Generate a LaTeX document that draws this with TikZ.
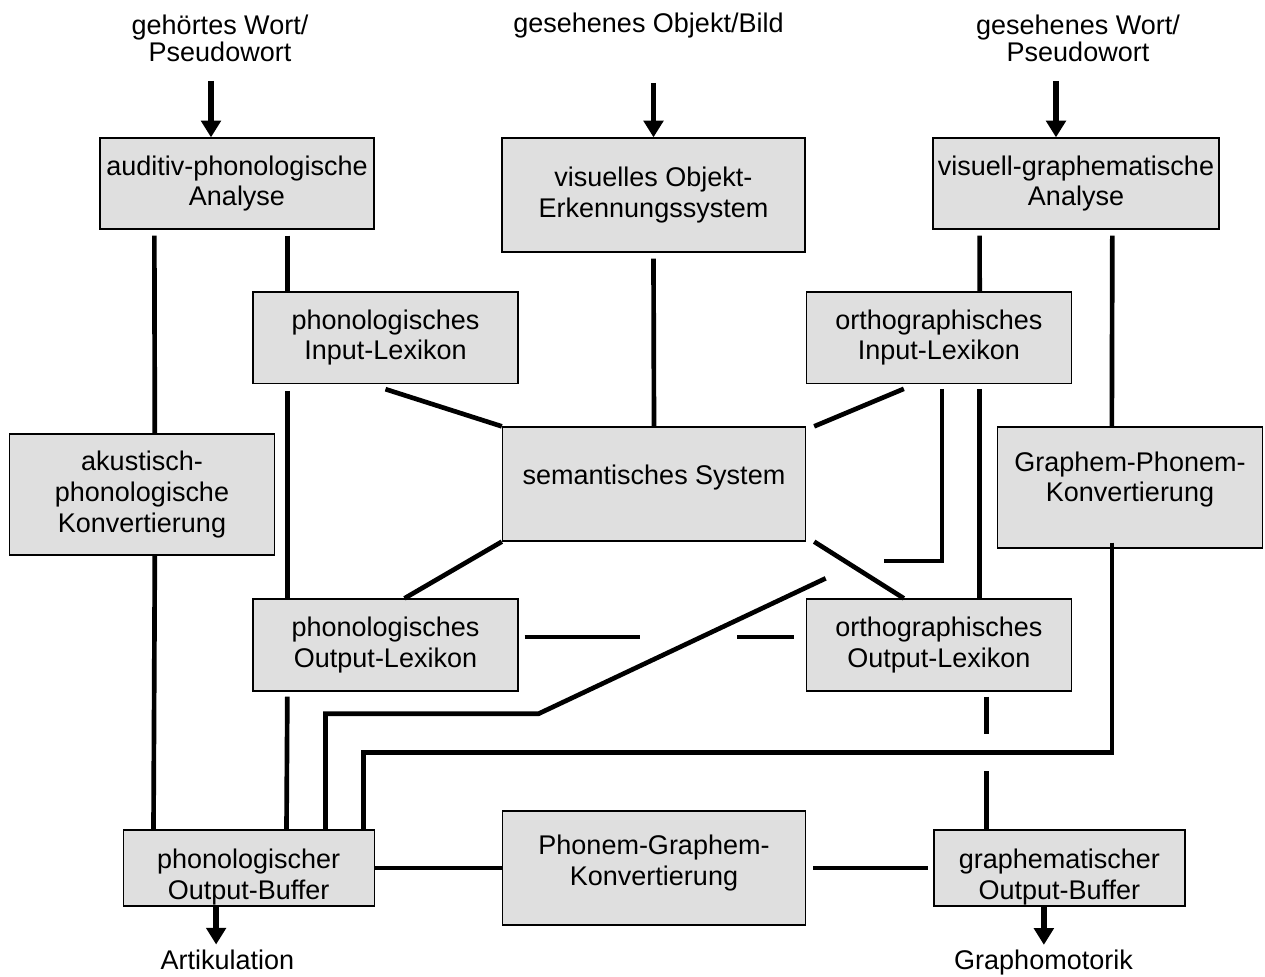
\documentclass[tikz,border=0pt]{standalone}
\usepackage{fontspec}
\setmainfont{Liberation Sans}
\usepackage{xcolor}
\definecolor{boxgray}{RGB}{223, 223, 223}
\usepackage{tikz}
\usetikzlibrary{arrows.meta, positioning}

\begin{document}
\begin{tikzpicture}[
    x=0.75pt, y=-0.75pt,
    every node/.style={align=center, inner sep=0pt},
    box/.style={rectangle, draw, line width=1pt, fill=boxgray, font=\fontsize{20.25}{23}\selectfont},
    analysis/.style={box, minimum width=205.5pt, minimum height=68.25pt},
    central/.style={box, minimum width=227.25pt, minimum height=85.5pt},
    lexicon/.style={box, minimum width=198.75pt, minimum height=68.5pt},
    conversion/.style={box, minimum width=198.75pt, minimum height=90.75pt},
    buffer/.style={box, minimum width=188.25pt, minimum height=57pt},
    io/.style={font=\fontsize{20.25}{20.25}\selectfont},
    link/.style={line width=3.5pt},
    feed/.style={-{Triangle[length=12.5pt, width=14.5pt]}, line width=4pt}
]
\useasboundingbox (0,0) rectangle (1265,976);

% Nodes
\node[io] (hear) at (220,38.5) {gehörtes Wort/\\Pseudowort};
\node[io] (obj) at (648.5,26) {gesehenes Objekt/Bild};
\node[io] (read) at (1078,38.5) {gesehenes Wort/\\Pseudowort};

\node[analysis] (aud) at (237,183.5) {auditiv-phonologische\\Analyse};
\node[central] (vis) at (653.5,195) {visuelles Objekt-\\Erkennungssystem};
\node[analysis, minimum width=214.5pt] (vgraph) at (1076,183.5) {visuell-graphematische\\Analyse};

\node[lexicon] (phonin) at (385.5,337.5) {phonologisches\\Input-Lexikon};
\node[lexicon, right=215.25pt of phonin] (orthin) {orthographisches\\Input-Lexikon};

\node[conversion] (akust) at (142,494.5) {akustisch-\\phonologische\\Konvertierung};
\node[central, text depth=13.3pt] (sem) at (654,484) {semantisches System};
\node[conversion] (gpk) at (1130,487.5) {Graphem-Phonem-\\Konvertierung\rule[-16.3pt]{0pt}{0pt}};

\node[lexicon, minimum height=69pt] (phonout) at (385.5,645) {phonologisches\\Output-Lexikon};
\node[lexicon, minimum height=69pt, right=215.25pt of phonout] (orthout) {orthographisches\\Output-Lexikon};

\node[central] (pgk) at (654,868) {Phonem-Graphem-\\Konvertierung\rule[-11.8pt]{0pt}{0pt}};
\node[buffer, left=95.25pt of pgk] (pbuf) {\rule{0pt}{28pt}phonologischer\\Output-Buffer};
\node[buffer, right=95.25pt of pgk] (gbuf) {\rule{0pt}{28pt}graphematischer\\Output-Buffer};

\node[io] (artik) at (227.5,960) {Artikulation};
\node[io] (motor) at (1043.5,963) {Graphomotorik};

% Connections
\draw[feed, shorten <=14pt] ([xshift=-6.75pt]hear.south) -- ([xshift=-6.75pt]hear.south |- aud.north);
\draw[feed, shorten <=33pt] (obj.south -| vis.north) -- (vis.north);
\draw[feed, shorten <=14pt] ([xshift=-16.5pt]read.south) -- ([xshift=-16.5pt]read.south |- vgraph.north);

\draw[link] ([shift={(55,6)}]aud.south west) -- ([shift={(146,0)}]akust.north west);
\draw[link] ([shift={(146,0)}]akust.south west) -- ([shift={(31,0)}]pbuf.north west);
\draw[link] ([shift={(188,6)}]aud.south west) -- ([shift={(35,0)}]phonin.north west);
\draw[link] ([shift={(35,7)}]phonin.south west) -- ([shift={(35,0)}]phonout.north west);
\draw[link] ([shift={(35,5)}]phonout.south west) -- ([shift={(164,0)}]pbuf.north west);

\draw[link] ([yshift=-4.5pt]vis.south) -- (sem.north);
\draw[link] ([yshift=-4pt]phonin.south) -- (sem.north west);
\draw[link] ([shift={(-35,5)}]orthin.south) -- ([xshift=6pt]sem.north east);
\draw[link] (sem.south west) -- ([xshift=14.25pt]phonout.north);
\draw[link] ([xshift=6pt]sem.south east) -- ([xshift=-26.25pt]orthout.north);

\draw[link] ([shift={(47.3,6)}]vgraph.south west) -- ([shift={(174,0)}]orthin.north west);
\draw[link] ([shift={(180,6)}]vgraph.south west) -- ([shift={(115,0)}]gpk.north west);
\draw[link] ([shift={(174,5)}]orthin.south west) -- ([shift={(174,0)}]orthout.north west);
\draw[link] ([shift={(181,5)}]orthout.south west) -- ++(0,37);
\draw[link] ([shift={(53,-58)}]gbuf.north west) -- ([shift={(53,0)}]gbuf.north west);

\draw[link] ([shift={(115,-6)}]gpk.south west) |- ([shift={(241,-77)}]pbuf.north west) -- ([shift={(241,0)}]pbuf.north west);
\draw[link] ([shift={(3,5)}]orthin.south) |- ([shift={(-55,177)}]orthin.south);
\draw[link] ([shift={(20,-20)}]orthout.north west) -- ([shift={(20,22)}]phonout.south east) -| ([shift={(203,0)}]pbuf.north west);

\draw[link] ([shift={(6,-8)}]phonout.east) -- ++(115,0);
\draw[link] ([shift={(-12,-8)}]orthout.west) -- ++(-57,0);
\draw[link] (pbuf.east) -- (pgk.west);
\draw[link] ([xshift=5.25pt]pgk.east) -- ([xshift=-3.75pt]gbuf.west);

\draw[feed, shorten >=4pt] ([xshift=-24.4pt]pbuf.south) -- ([xshift=-24.4pt]pbuf.south |- artik.north);
\draw[feed, shorten >=4pt] ([xshift=-11.6pt]gbuf.south) -- ([xshift=-11.6pt]gbuf.south |- motor.north);

\end{tikzpicture}
\end{document}
